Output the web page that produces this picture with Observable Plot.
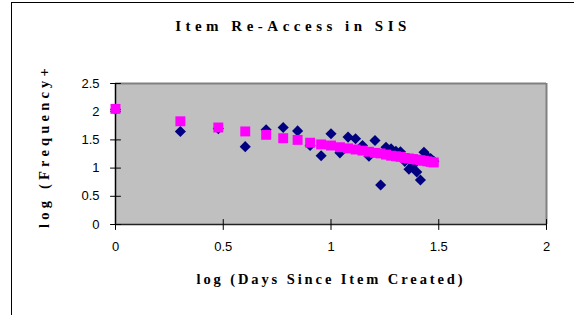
<!DOCTYPE html>
<html><head><meta charset="utf-8">
<script src="https://cdn.jsdelivr.net/npm/d3@7"></script>
<script src="https://cdn.jsdelivr.net/npm/@observablehq/plot@0.6"></script>
<style>
html,body{margin:0;padding:0;background:#fff;overflow:hidden;}
#wrap{position:relative;width:574px;height:315px;overflow:hidden;}
#border{position:absolute;left:11px;top:2px;width:640px;height:400px;border:1.5px solid #000;box-sizing:border-box;}
#chart{position:absolute;left:0;top:0;}
.t{position:absolute;font-family:"Liberation Serif",serif;font-weight:bold;white-space:nowrap;color:#000;line-height:1;}
</style></head><body>
<div id="wrap"><div id="border"></div><div id="chart"></div></div>
<script>
const days = [1,2,3,4,5,6,7,8,9,10,11,12,13,14,15,16,17,18,19,20,21,22,23,24,25,26,27,28,29,30];
const observed = [2.04,1.65,1.70,1.38,1.68,1.72,1.66,1.40,1.22,1.61,1.27,1.55,1.52,1.40,1.21,1.49,0.70,1.37,1.34,1.30,1.29,1.12,0.98,1.05,0.93,0.79,1.28,1.20,1.17,1.12];
const fitted = [2.05,1.83,1.72,1.65,1.59,1.53,1.50,1.45,1.42,1.40,1.37,1.35,1.33,1.31,1.29,1.27,1.26,1.24,1.22,1.21,1.20,1.18,1.17,1.16,1.15,1.14,1.13,1.12,1.11,1.10];
const xTicks = [0,0.5,1,1.5,2];
const yTicks = [0,0.5,1,1.5,2,2.5];
const title = "Item Re-Access in SIS";
const xLabel = "log (Days Since Item Created)";
const yLabel = "log (Frequency+";

const data = days.map((d,i)=>({x: Math.log10(d), obs: observed[i], fit: fitted[i]}));
const tickShape = {draw(ctx, l){ ctx.moveTo(0,0); ctx.lineTo(0,-l); }};

const chart = Plot.plot({
  width: 574, height: 315,
  marginLeft: 115, marginRight: 28, marginTop: 83, marginBottom: 91,
  x: {domain: [xTicks[0], xTicks[xTicks.length-1]]},
  y: {domain: [yTicks[0], yTicks[yTicks.length-1]]},
  style: {fontFamily: "'Liberation Sans', sans-serif", fontSize: "13px", background: "transparent", color: "#000"},
  marks: [
    Plot.frame({fill: "#c0c0c0", stroke: null}),
    Plot.ruleY([yTicks[yTicks.length-1]], {stroke: "#808080", strokeWidth: 2}),
    Plot.ruleX([xTicks[xTicks.length-1]], {stroke: "#808080", strokeWidth: 2}),
    Plot.ruleX([xTicks[0]], {stroke: "#000", strokeWidth: 1.5}),
    Plot.ruleY([yTicks[0]], {stroke: "#222", strokeWidth: 1.5}),
    Plot.vector(xTicks, {x: d => d, y: () => yTicks[0], length: 10, rotate: 0, anchor: "middle", shape: tickShape, stroke: "#000", strokeWidth: 1}),
    Plot.vector(yTicks, {x: () => xTicks[0], y: d => d, length: 10, rotate: 90, anchor: "middle", shape: tickShape, stroke: "#000", strokeWidth: 1}),
    Plot.axisX({ticks: xTicks, tickSize: 0, tickPadding: 17, label: null, tickFormat: d => String(d)}),
    Plot.axisY({ticks: yTicks, tickSize: 0, tickPadding: 16, label: null, tickFormat: d => String(d)}),
    Plot.dot(data, {x: "x", y: "obs", symbol: "diamond2", r: 5, fill: "#000080", stroke: null}),
    Plot.dot(data, {x: "x", y: "fit", symbol: "square", r: 5.6, fill: "#ff00ff", stroke: null})
  ]
});
document.getElementById("chart").appendChild(chart);

const wrap = document.getElementById("wrap");
function addText(txt, css){
  const d = document.createElement("div");
  d.className = "t";
  d.textContent = txt;
  Object.assign(d.style, css);
  wrap.appendChild(d);
  return d;
}
addText(title, {left: "293px", top: "19px", fontSize: "15px", letterSpacing: "4.5px", transform: "translateX(-50%)"});
addText(xLabel, {left: "331px", top: "272px", fontSize: "14.5px", letterSpacing: "2.9px", transform: "translateX(-50%)"});
addText(yLabel, {left: "44px", top: "146px", fontSize: "14.5px", letterSpacing: "4.2px", transform: "translate(-50%,-50%) rotate(-90deg)"});
</script>
</body></html>
